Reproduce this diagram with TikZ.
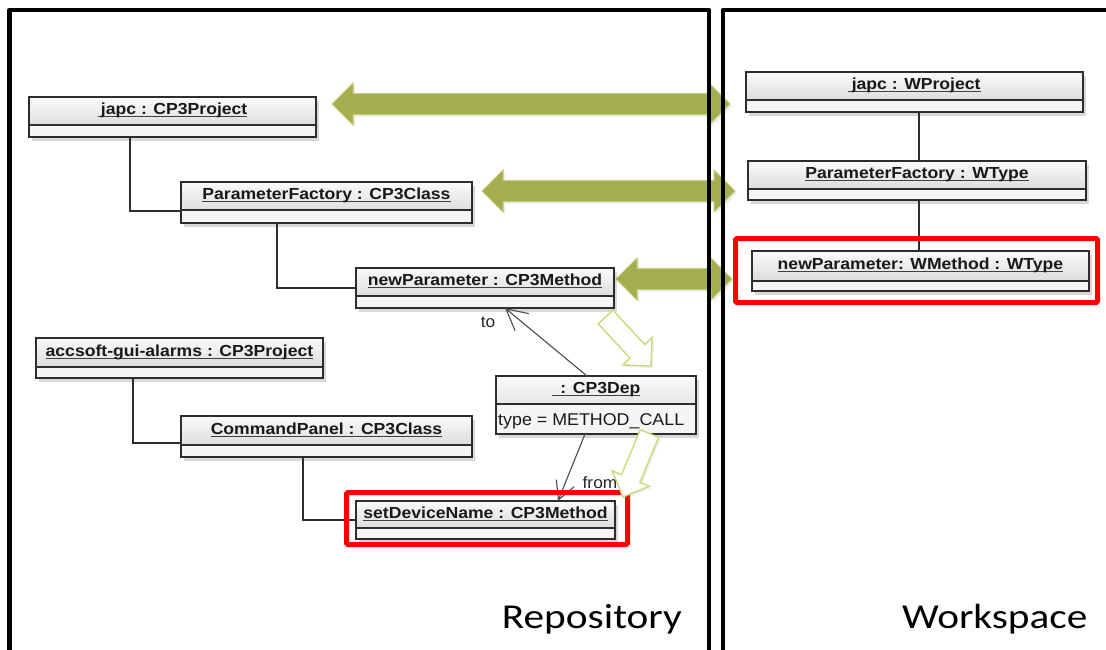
\documentclass[tikz,border=0pt]{standalone}
\usepackage{fontspec}
\usepackage{graphicx}
\setmainfont{Liberation Sans}
\newfontfamily\slidefont{Carlito}
\usetikzlibrary{calc,shadows,arrows.meta}

\definecolor{arrowfill}{RGB}{164,173,80}
\definecolor{arrowedge}{RGB}{196,204,118}
\definecolor{hollowedge}{RGB}{206,216,120}
\definecolor{boxedge}{RGB}{45,45,45}

% underline sitting just below the baseline, as in the modelling tool
\newcommand\ulined[1]{\setbox0=\hbox{#1}\rlap{\color{black!75}\rule[-2.6pt]{\wd0}{0.9pt}}\box0}
\newcommand\ttl[1]{\scalebox{1.1}[1]{\ulined{#1}}}

% UML object: name, x1, y1, x2, y2, y of the divider, title
\newcommand\umlobj[7]{%
  \node[umlbox,
    minimum width={(#4-#2)*1pt}, minimum height={(#5-#3)*1pt},
    path picture={%
      \fill[top color=black!2, bottom color=black!18]
        (path picture bounding box.north west) rectangle
        ([yshift={(#5-#6)*1pt}]path picture bounding box.south east);
      \draw[draw=boxedge, line width=1.3pt]
        ([yshift={(#5-#6)*1pt}]path picture bounding box.south west) --
        ([yshift={(#5-#6)*1pt}]path picture bounding box.south east);
    }] (#1) at ({(#2+#4)/2},{(#3+#5)/2}) {};
  \node[umltitle] (#1-t) at ({(#2+#4)/2},{(#3+#6)/2}) {\ttl{#7}};
}

% filled block arrow with a head at both ends
\newcommand\dblarrow[2]{%
  \coordinate (#1-h) at ($(#1)!21pt!(#2)$);
  \coordinate (#2-h) at ($(#2)!21pt!(#1)$);
  \path[greenarrow] (#1) -- ($(#1-h)!21pt!90:(#2)$) -- ($(#1-h)!10.5pt!90:(#2)$)
    -- ($(#2-h)!10.5pt!-90:(#1)$) -- ($(#2-h)!21pt!-90:(#1)$) -- (#2)
    -- ($(#2-h)!21pt!90:(#1)$) -- ($(#2-h)!10.5pt!90:(#1)$)
    -- ($(#1-h)!10.5pt!-90:(#2)$) -- ($(#1-h)!21pt!-90:(#2)$) -- cycle;
}

% outlined block arrow from #1 to its tip #2
\newcommand\hollowarrow[2]{%
  \coordinate (#2-h) at ($(#2)!20pt!(#1)$);
  \path[hollowshape] ($(#1)!10pt!90:(#2)$) -- ($(#2-h)!10pt!90:(#2)$)
    -- ($(#2-h)!20pt!90:(#2)$) -- (#2) -- ($(#2-h)!20pt!-90:(#2)$)
    -- ($(#2-h)!10pt!-90:(#2)$) -- ($(#1)!10pt!-90:(#2)$) -- cycle;
}

\begin{document}
\begin{tikzpicture}[x=1pt,y=-1pt,
  umlbox/.style={draw=boxedge, line width=1.3pt, fill=black!4, inner sep=0pt,
    outer sep=0pt, drop shadow={shadow xshift=3pt, shadow yshift=-3.5pt, opacity=0.3}},
  umltitle/.style={font=\bfseries\fontsize{16}{19}\selectfont, text=black!90,
    inner sep=0pt, text height=11.5pt, text depth=4.5pt},
  umlattr/.style={font=\fontsize{17}{20}\selectfont, text=black!90, inner sep=0pt},
  conn/.style={draw=boxedge, line width=1.1pt},
  deplink/.style={draw=black!70, line width=1.1pt},
  rolelabel/.style={font=\fontsize{16.5}{19}\selectfont, text=black!85, inner sep=0pt},
  greenarrow/.style={fill=arrowfill, draw=arrowedge, line width=1pt, line join=miter,
    drop shadow={shadow xshift=2pt, shadow yshift=-2pt, opacity=0.15}},
  hollowshape/.style={fill=white, draw=hollowedge, line width=1.4pt, line join=miter,
    drop shadow={shadow xshift=2pt, shadow yshift=-2pt, opacity=0.12}},
  redframe/.style={draw=red, line width=5pt, rounded corners=1.5pt},
  panel/.style={draw=black, line width=4.5pt, line join=round},
  regionlabel/.style={font=\slidefont\fontsize{35}{40}\selectfont, inner sep=0pt}
]
\useasboundingbox (0,0) rectangle (1106,649);
\fill[white] (0,0) rectangle (1106,649);

% mapping arrows between repository and workspace
\coordinate (g1a) at (332,104);  \coordinate (g1b) at (730,104);
\coordinate (g2a) at (482,191);  \coordinate (g2b) at (735,191);
\coordinate (g3a) at (616,279);  \coordinate (g3b) at (732,279);
\dblarrow{g1a}{g1b}
\dblarrow{g2a}{g2b}
\dblarrow{g3a}{g3b}

% repository objects
\umlobj{japc}{29}{97}{316}{137}{125}{\hspace{3pt}japc : CP3Project}
\umlobj{pfc}{181}{182}{472}{223}{210}{ParameterFactory : CP3Class}
\umlobj{npc}{356}{268}{614}{308}{296}{newParameter : CP3Method}
\umlobj{acc}{36}{338}{323}{378}{367}{accsoft-gui-alarms : CP3Project}
\umlobj{cpc}{181}{416}{472}{457}{445}{CommandPanel : CP3Class}
\umlobj{sdn}{356}{501}{615}{539}{528}{setDeviceName : CP3Method}
\umlobj{dep}{496}{376}{696}{434}{404}{\hspace{8pt}: CP3Dep}
\node[umlattr, anchor=base west] (dep-a) at (498,425) {\scalebox{1.05}[1]{type = METHOD\_CALL}};

% workspace objects
\umlobj{jw}{746}{72}{1083}{112}{100}{\hspace{3pt}japc : WProject}
\umlobj{pfw}{748}{161}{1086}{200}{189}{ParameterFactory : WType}
\umlobj{npw}{752}{251}{1089}{291}{281}{newParameter: WMethod : WType}

% containment links
\draw[conn] ($(japc.south west)+(101,0)$) |- ($(pfc.south west)+(0,-12)$);
\draw[conn] ($(pfc.south west)+(96,0)$) |- (npc.west);
\draw[conn] ($(acc.south west)+(97,0)$) |- ($(cpc.south west)+(0,-14)$);
\draw[conn] ($(cpc.south west)+(122,0)$) |- (sdn.west);
\coordinate (wx) at (919,0);
\draw[conn] (jw.south -| wx) -- (pfw.north -| wx);
\draw[conn] (pfw.south -| wx) -- (npw.north -| wx);

% dependency ends
\draw[deplink, -{Straight Barb[length=21pt,width=22pt]}]
  ($(dep.north west)+(91,0)$) -- ($(npc.south west)+(149,0)$);
\draw[deplink, -{Straight Barb[length=18pt,width=19pt]}]
  ($(dep.south west)+(89,0)$) -- ($(sdn.north west)+(202,0)$);
\node[rolelabel] (to-l) at (488,322) {\scalebox{1.05}[1]{to}};
\node[rolelabel] (from-l) at (600,483) {\scalebox{1.05}[1]{from}};

% highlighted methods
\draw[redframe] (346.5,492.5) rectangle (627.5,544.5);
\draw[redframe] (735.5,238.5) rectangle (1097.5,302.5);

% outlined step arrows
\coordinate (hA-s) at (605.5,317);  \coordinate (hA-t) at (651,366);
\coordinate (hB-s) at (649.5,433.5); \coordinate (hB-t) at (623,497);
\hollowarrow{hA-s}{hA-t}
\hollowarrow{hB-s}{hB-t}

% the two panels
\draw[panel] (9.5,670) -- (9.5,10) -- (709,10) -- (709,670);
\draw[panel] (723,670) -- (723,10) -- (1130,10);

\node[regionlabel, anchor=base east] (repo) at (682,628) {\scalebox{1.18}[1]{Repository}};
\node[regionlabel, anchor=base west] (ws) at (902,628) {\scalebox{1.18}[1]{Workspace}};
\end{tikzpicture}
\end{document}
